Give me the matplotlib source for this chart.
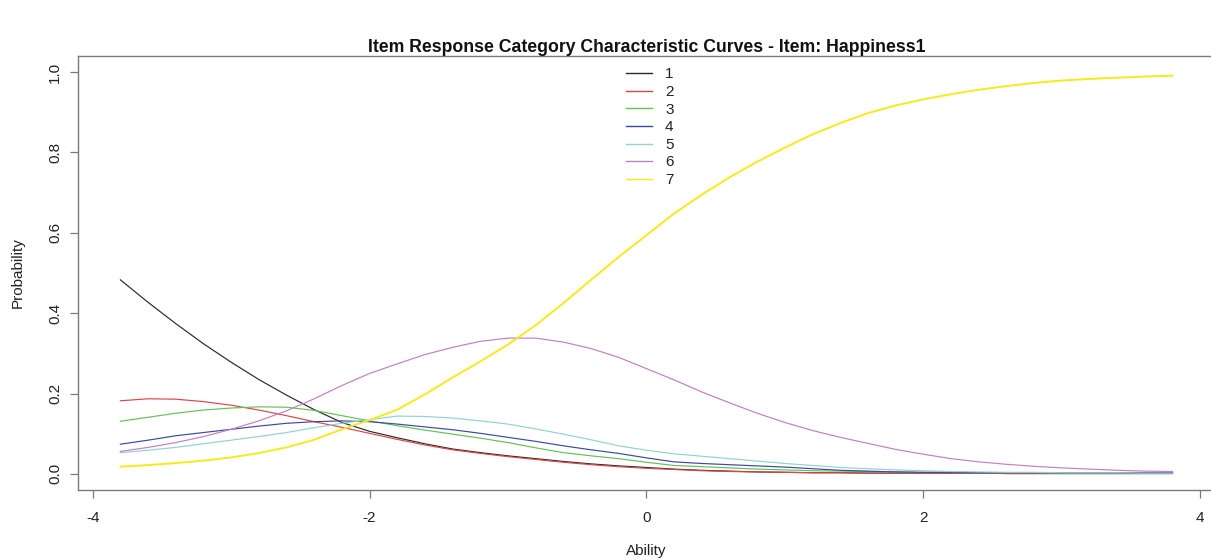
import matplotlib
matplotlib.use("Agg")
import matplotlib.pyplot as plt

plt.rcParams['font.family'] = ['Liberation Sans', 'DejaVu Sans']

ability = [-3.8, -3.6, -3.4, -3.2, -3.0, -2.8, -2.6, -2.4, -2.2, -2.0,
           -1.8, -1.6, -1.4, -1.2, -1.0, -0.8, -0.6, -0.4, -0.2, 0.0,
           0.2, 0.4, 0.6, 0.8, 1.0, 1.2, 1.4, 1.6, 1.8, 2.0,
           2.2, 2.4, 2.6, 2.8, 3.0, 3.2, 3.4, 3.6, 3.8]

cat1 = [0.483, 0.427, 0.374, 0.324, 0.278, 0.235, 0.196, 0.160, 0.128, 0.106,
        0.090, 0.075, 0.062, 0.053, 0.045, 0.038, 0.031, 0.025, 0.020, 0.016,
        0.012, 0.009, 0.007, 0.005, 0.004, 0.003, 0.003, 0.002, 0.002, 0.002,
        0.002, 0.002, 0.001, 0.001, 0.001, 0.001, 0.001, 0.001, 0.001]
cat2 = [0.182, 0.187, 0.186, 0.180, 0.171, 0.159, 0.145, 0.130, 0.116, 0.101,
        0.086, 0.072, 0.060, 0.051, 0.043, 0.036, 0.029, 0.023, 0.018, 0.014,
        0.011, 0.008, 0.006, 0.005, 0.004, 0.003, 0.003, 0.002, 0.002, 0.002,
        0.002, 0.002, 0.001, 0.001, 0.001, 0.001, 0.001, 0.001, 0.001]
cat3 = [0.131, 0.141, 0.151, 0.159, 0.164, 0.167, 0.166, 0.158, 0.145, 0.132,
        0.120, 0.109, 0.099, 0.089, 0.078, 0.065, 0.053, 0.045, 0.038, 0.029,
        0.021, 0.018, 0.015, 0.012, 0.010, 0.008, 0.007, 0.006, 0.005, 0.004,
        0.004, 0.003, 0.003, 0.003, 0.002, 0.002, 0.002, 0.002, 0.002]
cat4 = [0.074, 0.084, 0.095, 0.103, 0.111, 0.119, 0.126, 0.130, 0.132, 0.130,
        0.124, 0.117, 0.110, 0.101, 0.091, 0.081, 0.070, 0.060, 0.051, 0.040,
        0.030, 0.026, 0.023, 0.020, 0.017, 0.013, 0.009, 0.007, 0.005, 0.004,
        0.004, 0.003, 0.003, 0.003, 0.003, 0.003, 0.003, 0.003, 0.003]
cat5 = [0.053, 0.059, 0.066, 0.075, 0.084, 0.093, 0.103, 0.115, 0.126, 0.135,
        0.144, 0.143, 0.139, 0.132, 0.124, 0.112, 0.099, 0.085, 0.070, 0.059,
        0.050, 0.044, 0.038, 0.032, 0.026, 0.021, 0.016, 0.013, 0.010, 0.008,
        0.006, 0.005, 0.004, 0.004, 0.003, 0.003, 0.003, 0.002, 0.002]
cat6 = [0.056, 0.066, 0.078, 0.093, 0.111, 0.132, 0.157, 0.187, 0.220, 0.250,
        0.274, 0.297, 0.315, 0.330, 0.338, 0.338, 0.328, 0.312, 0.290, 0.262,
        0.234, 0.204, 0.177, 0.151, 0.128, 0.108, 0.091, 0.076, 0.061, 0.049,
        0.038, 0.030, 0.024, 0.019, 0.015, 0.012, 0.009, 0.007, 0.006]
cat7 = [0.018, 0.022, 0.027, 0.033, 0.041, 0.052, 0.066, 0.085, 0.111, 0.134,
        0.160, 0.198, 0.240, 0.280, 0.322, 0.370, 0.425, 0.483, 0.540, 0.594,
        0.648, 0.695, 0.738, 0.777, 0.812, 0.845, 0.873, 0.898, 0.917, 0.932,
        0.945, 0.956, 0.965, 0.973, 0.979, 0.983, 0.986, 0.989, 0.991]

labels = ["1", "2", "3", "4", "5", "6", "7"]
series = [cat1, cat2, cat3, cat4, cat5, cat6, cat7]
colors = ['#2a2a2a', '#e04545', '#66c055', '#3a4aa0', '#8fd3d3', '#c47fc0', '#f6ea1c']
widths = [0.85, 0.85, 0.85, 0.85, 0.85, 0.85, 1.4]

xticks = [-4, -2, 0, 2, 4]
yticks = [0.0, 0.2, 0.4, 0.6, 0.8, 1.0]

W, H = 1211, 560
fig = plt.figure(figsize=(W / 100, H / 100), dpi=100)
ax = fig.add_axes([78.3 / W, (H - 490) / H, (1214.6 - 78.3) / W, (490 - 56) / H])

for s, lab, c, lw in zip(series, labels, colors, widths):
    ax.plot(ability, s, color=c, lw=lw, label=lab)

ax.set_xlim(-4.104, 4.104)
ax.set_ylim(-0.04, 1.04)
ax.set_xticks(xticks)
ax.set_xticklabels([f"{t:d}" for t in xticks])
ax.set_yticks(yticks)
ax.set_yticklabels([f"{t:.1f}" for t in yticks], rotation=90, va='center')

for sp in ax.spines.values():
    sp.set_color('#7a7a7a')
    sp.set_linewidth(1.0)
ax.tick_params(axis='both', direction='out', length=5.5, width=0.9,
               color='#7a7a7a', labelsize=11, labelcolor='#222222')
ax.tick_params(axis='x', pad=9.5)
ax.tick_params(axis='y', pad=6)

fig.text(647 / W, 1 - 47.5 / H,
         "Item Response Category Characteristic Curves - Item: Happiness1",
         ha='center', va='center', fontsize=12.7, fontweight='bold', color='#111111')
fig.text(646 / W, 1 - 551 / H, "Ability", ha='center', va='center',
         fontsize=11, color='#222222')
fig.text(18 / W, 1 - 273 / H, "Probability", ha='center', va='center',
         rotation=90, fontsize=11, color='#222222')

leg = ax.legend(loc='upper left', bbox_to_anchor=(626 / W, 1 - 67.5 / H),
                bbox_transform=fig.transFigure, frameon=False, fontsize=11,
                handlelength=1.7, handletextpad=0.85, labelspacing=0.235,
                borderpad=0, borderaxespad=0)
for t in leg.get_texts():
    t.set_color('#222222')
for l in leg.get_lines():
    l.set_linewidth(1.0)

fig.savefig("out.png", dpi=100)
